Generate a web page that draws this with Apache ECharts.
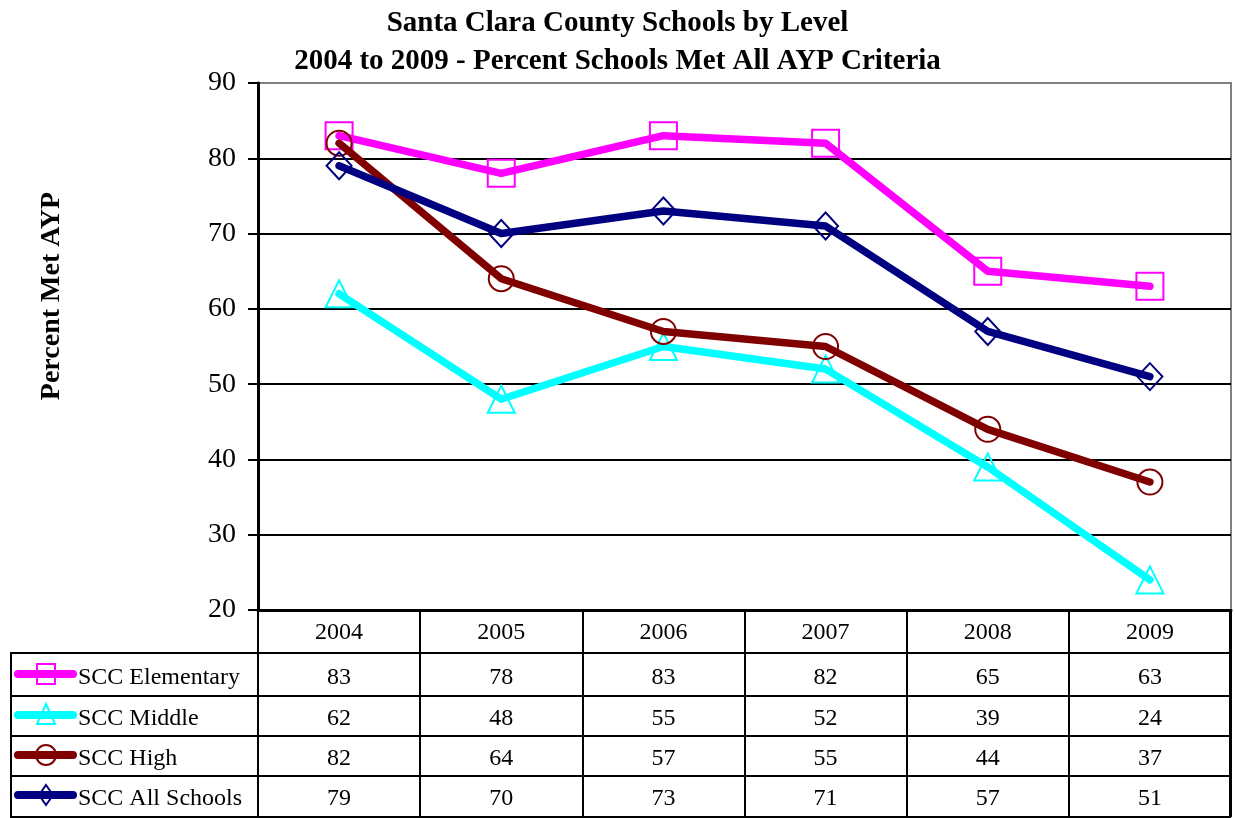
<!DOCTYPE html>
<html><head><meta charset="utf-8">
<script src="https://cdn.jsdelivr.net/npm/echarts@6/dist/echarts.min.js"></script>
<style>html,body{margin:0;padding:0;background:#fff}#c{width:1235px;height:818px}</style>
</head><body><div id="c"></div><script>
// ---- data ----
const categories = ['2004', '2005', '2006', '2007', '2008', '2009'];
const elementary = [83, 78, 83, 82, 65, 63];
const middle = [62, 48, 55, 52, 39, 24];
const high = [82, 64, 57, 55, 44, 37];
const allSchools = [79, 70, 73, 71, 57, 51];
const seriesNames = ['SCC Elementary', 'SCC Middle', 'SCC High', 'SCC All Schools'];
const yTickLabels = [20, 30, 40, 50, 60, 70, 80, 90];
const titleText = 'Santa Clara County Schools by Level\n2004 to 2009 - Percent Schools Met All AYP Criteria';
const yAxisTitle = 'Percent Met AYP';

// ---- styles / layout ----
const seriesValues = [elementary, middle, high, allSchools];
const seriesColors = ['#FF00FF', '#00FFFF', '#800000', '#000080'];
const seriesSymbols = ['rect', 'triangle', 'circle', 'diamond'];
const symbolSizes = [27, 27, 25, [25, 27]];
const FONT = '"Liberation Serif","Times New Roman",serif';
const W = 1235, H = 818;
const gridLeft = 258, gridRight = 4, gridTop = 83, gridBottom = 208;
const axisY = H - gridBottom; // 610
const rowLines = [653, 696, 736, 776, 817];
const rowCenters = [678, 719, 759, 799];
const tableLeft = 10, tableRight = W - gridRight;
const TABLE_FS = 24;

const chart = echarts.init(document.getElementById('c'), null, {renderer: 'canvas'});

const xAxes = [{
  type: 'category', data: categories, boundaryGap: true, gridIndex: 0, position: 'bottom',
  axisLine: {show: true, lineStyle: {color: '#000', width: 3}},
  axisTick: {show: true, interval: 0, alignWithLabel: false, inside: false, length: 817 - axisY, lineStyle: {color: '#000', width: 2}},
  axisLabel: {interval: 0, margin: 23, verticalAlign: 'middle', color: '#000', fontFamily: FONT, fontSize: TABLE_FS},
  splitLine: {show: false}
}];
seriesValues.forEach((vals, k) => {
  xAxes.push({
    type: 'category', data: categories, boundaryGap: true, gridIndex: 0, position: 'bottom',
    axisLine: {show: false}, axisTick: {show: false}, splitLine: {show: false},
    axisLabel: {interval: 0, margin: rowCenters[k] - axisY, verticalAlign: 'middle', color: '#000',
      fontFamily: FONT, fontSize: TABLE_FS, formatter: (v, idx) => String(vals[idx])}
  });
});

const graphics = [];
rowLines.forEach(y => graphics.push({type: 'line', shape: {x1: tableLeft, y1: y, x2: tableRight, y2: y}, style: {stroke: '#000', lineWidth: 2}, silent: true}));
graphics.push({type: 'line', shape: {x1: tableLeft + 1, y1: rowLines[0], x2: tableLeft + 1, y2: rowLines[rowLines.length - 1]}, style: {stroke: '#000', lineWidth: 2}, silent: true});
graphics.push({type: 'line', shape: {x1: tableRight - 1, y1: axisY, x2: tableRight - 1, y2: rowLines[rowLines.length - 1]}, style: {stroke: '#000', lineWidth: 2}, silent: true});

seriesNames.forEach((name, k) => {
  const cy = rowCenters[k] - 4;
  const c = seriesColors[k];
  graphics.push({type: 'line', shape: {x1: 18, y1: cy, x2: 73, y2: cy}, style: {stroke: c, lineWidth: 8, lineCap: 'round'}, silent: true, z: 10});
  const cx = 46;
  let sym;
  const st = {fill: 'none', stroke: c, lineWidth: 2};
  if (seriesSymbols[k] === 'rect') sym = {type: 'rect', shape: {x: cx - 9, y: cy - 10, width: 18, height: 20}, style: st};
  else if (seriesSymbols[k] === 'triangle') sym = {type: 'polygon', shape: {points: [[cx, cy - 11], [cx + 9, cy + 9], [cx - 9, cy + 9]]}, style: st};
  else if (seriesSymbols[k] === 'circle') sym = {type: 'circle', shape: {cx: cx, cy: cy, r: 10}, style: st};
  else sym = {type: 'polygon', shape: {points: [[cx, cy - 10], [cx + 7, cy], [cx, cy + 10], [cx - 7, cy]]}, style: st};
  sym.silent = true; sym.z = 11;
  graphics.push(sym);
  graphics.push({type: 'text', x: 78, y: rowCenters[k], style: {text: name, font: TABLE_FS + 'px ' + FONT, fill: '#000', verticalAlign: 'middle', align: 'left'}, silent: true, z: 11});
});
graphics.push({type: 'text', x: 52, y: 296, rotation: Math.PI / 2,
  style: {text: yAxisTitle, font: 'bold 28px ' + FONT, fill: '#000', align: 'center', verticalAlign: 'middle'}, silent: true});

const option = {
  backgroundColor: '#fff',
  animation: false,
  title: {text: titleText, left: 'center', top: 0,
    textStyle: {fontFamily: FONT, fontWeight: 'bold', fontSize: 29, lineHeight: 38, color: '#000'}},
  grid: {left: gridLeft, right: gridRight, top: gridTop, bottom: gridBottom, show: true,
    borderColor: '#808080', borderWidth: 2, backgroundColor: 'transparent', containLabel: false, outerBoundsMode: 'none'},
  xAxis: xAxes,
  yAxis: {type: 'value', min: yTickLabels[0], max: yTickLabels[yTickLabels.length - 1], interval: 10,
    axisLine: {show: true, lineStyle: {color: '#000', width: 3}},
    axisTick: {show: true, inside: false, length: 10, lineStyle: {color: '#000', width: 2}},
    axisLabel: {margin: 22, color: '#000', fontFamily: FONT, fontSize: 28, formatter: v => String(v)},
    splitLine: {show: true, showMinLine: false, showMaxLine: false, lineStyle: {color: '#000', width: 2}}},
  series: seriesValues.map((vals, k) => ({
    name: seriesNames[k], type: 'line', data: vals, xAxisIndex: 0,
    symbol: seriesSymbols[k], symbolSize: symbolSizes[k], showAllSymbol: true,
    lineStyle: {color: seriesColors[k], width: 7.5, cap: 'round', join: 'round'},
    itemStyle: {color: 'rgba(255,255,255,0)', borderColor: seriesColors[k], borderWidth: 2},
    emphasis: {disabled: true}, z: 2 + k
  })),
  graphic: graphics
};
chart.setOption(option);
</script></body></html>
